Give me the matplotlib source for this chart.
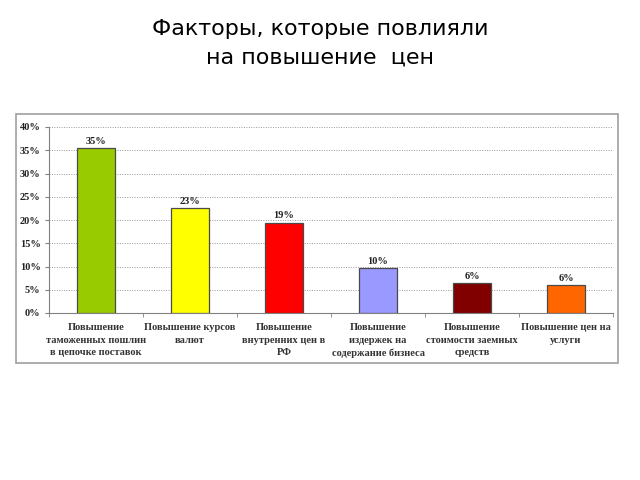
import matplotlib.pyplot as plt
from matplotlib.patches import Rectangle

categories = [
    "Повышение\nтаможенных пошлин\nв цепочке поставок",
    "Повышение курсов\nвалют",
    "Повышение\nвнутренних цен в\nРФ",
    "Повышение\nиздержек на\nсодержание бизнеса",
    "Повышение\nстоимости заемных\nсредств",
    "Повышение цен на\nуслуги",
]
values = [35.5, 22.6, 19.4, 9.7, 6.4, 6.0]
value_labels = ["35%", "23%", "19%", "10%", "6%", "6%"]
colors = ["#99CC00", "#FFFF00", "#FF0000", "#9999FF", "#800000", "#FF6600"]
yticks = [0, 5, 10, 15, 20, 25, 30, 35, 40]

fig = plt.figure(figsize=(6.4, 4.8), dpi=100)

# рамка вокруг диаграммы (под осями)
fig.patches.append(Rectangle((16 / 640, 1 - 363 / 480), 602 / 640, 249 / 480,
                             transform=fig.transFigure, facecolor="white",
                             edgecolor="#A0A0A0", linewidth=1.2, zorder=-5))

fig.text(0.5, 0.94, "Факторы, которые повлияли", ha="center", va="center",
         fontsize=16, family="DejaVu Sans")
fig.text(0.5, 0.88, "на повышение  цен", ha="center", va="center",
         fontsize=16, family="DejaVu Sans")

ax = fig.add_axes([49 / 640, 1 - 313 / 480, 564 / 640, 186 / 480], zorder=2)
ax.set_facecolor("none")
x = list(range(len(values)))
ax.bar(x, values, width=0.4, color=colors, edgecolor="#4a4a4a", linewidth=0.9, zorder=3)

for xi, v, lab in zip(x, values, value_labels):
    ax.text(xi, v + 0.5, lab, ha="center", va="bottom", fontsize=7.5,
            fontweight="bold", family="Liberation Serif", color="#222222")

ax.set_xlim(-0.5, len(values) - 0.5)
ax.set_ylim(0, 40)
ax.set_yticks(yticks)
ax.set_yticklabels([f"{t}%" for t in yticks], fontsize=7.5, fontweight="bold",
                   family="Liberation Serif", color="#222222")
ax.yaxis.grid(True, linestyle=(0, (1, 1.5)), color="#999999", linewidth=0.7, zorder=0)

ax.set_xticks(x)
ax.set_xticklabels(categories, fontsize=7.5, fontweight="bold",
                   family="Liberation Serif", color="#333333", linespacing=1.55)
ax.tick_params(axis="x", length=0, pad=7)
ax.set_xticks([i + 0.5 for i in range(-1, len(values))], minor=True)
ax.tick_params(axis="x", which="minor", length=3, color="#808080", direction="out")
ax.tick_params(axis="y", length=3, color="#808080", pad=3)

for side in ["top", "right"]:
    ax.spines[side].set_visible(False)
ax.spines["left"].set_color("#808080")
ax.spines["bottom"].set_color("#808080")

plt.savefig("out.png", dpi=100)
